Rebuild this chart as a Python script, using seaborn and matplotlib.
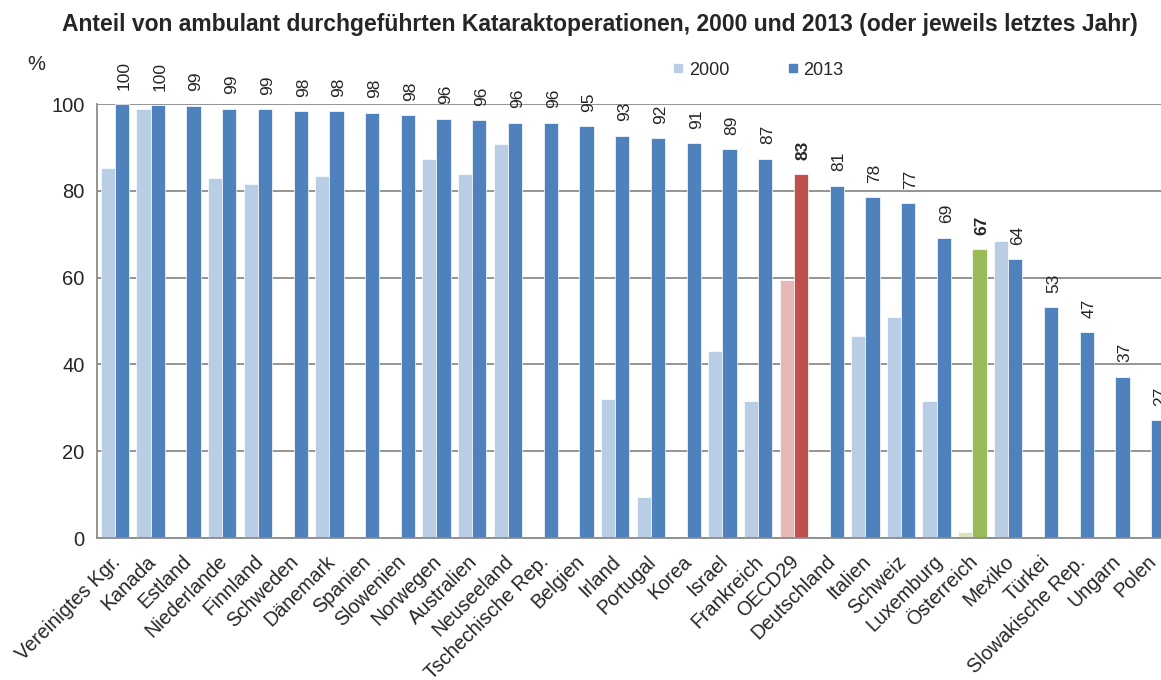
import numpy as np
import pandas as pd
import matplotlib
matplotlib.use('Agg')
import matplotlib.pyplot as plt
from matplotlib.lines import Line2D
import seaborn as sns

# Länder in Reihenfolge der Grafik
countries = ['Vereinigtes Kgr.', 'Kanada', 'Estland', 'Niederlande', 'Finnland',
             'Schweden', 'Dänemark', 'Spanien', 'Slowenien', 'Norwegen',
             'Australien', 'Neuseeland', 'Tschechische Rep.', 'Belgien', 'Irland',
             'Portugal', 'Korea', 'Israel', 'Frankreich', 'OECD29',
             'Deutschland', 'Italien', 'Schweiz', 'Luxemburg', 'Österreich',
             'Mexiko', 'Türkei', 'Slowakische Rep.', 'Ungarn', 'Polen']

# Anteil 2000 (None = keine Daten)
share_2000 = [85.2, 98.8, None, 83.0, 81.6,
              None, 83.4, None, None, 87.3,
              83.8, 90.8, None, None, 32.0,
              9.4, None, 43.0, 31.6, 59.4,
              None, 46.6, 51.0, 31.6, 1.4,
              68.4, None, None, None, None]

# Anteil 2013
share_2013 = [100.0, 99.8, 99.6, 98.9, 98.8,
              98.4, 98.4, 98.0, 97.5, 96.6,
              96.2, 95.7, 95.7, 94.9, 92.7,
              92.2, 90.9, 89.6, 87.4, 83.8,
              81.2, 78.5, 77.2, 69.2, 66.6,
              64.3, 53.2, 47.5, 37.2, 27.1]

labels_2013 = ['100', '100', '99', '99', '99', '98', '98', '98', '98', '96',
               '96', '96', '96', '95', '93', '92', '91', '89', '87', '83',
               '81', '78', '77', '69', '67', '64', '53', '47', '37', '27']

# Farben
blue_dark = '#4F81BD'
blue_light = '#B9CDE5'
red_dark = '#C0504D'
red_light = '#E6B9B8'
green_dark = '#9BBB59'
green_light = '#D7E4BD'

rows = []
for c, a, b in zip(countries, share_2000, share_2013):
    rows.append({'land': c, 'jahr': '2000', 'wert': np.nan if a is None else a})
    rows.append({'land': c, 'jahr': '2013', 'wert': b})
df = pd.DataFrame(rows)

sns.set_style('white')
plt.rcParams['font.family'] = ['Liberation Sans', 'DejaVu Sans']

fig = plt.figure(figsize=(11.61, 6.80), dpi=100)
# Achse reicht rechts leicht über den Bildrand hinaus (wie im Original)
ax = fig.add_axes([97 / 1161, 142 / 680, 1072 / 1161, 434 / 680])

sns.barplot(data=df, x='land', y='wert', hue='jahr', order=countries,
            hue_order=['2000', '2013'], ax=ax, legend=False, width=0.8,
            edgecolor='white', linewidth=0.5, errorbar=None)

# Balken einfärben
for p in ax.patches:
    xc = p.get_x() + p.get_width() / 2
    idx = int(round(xc))
    early = xc < idx
    name = countries[idx]
    if name == 'OECD29':
        col = red_light if early else red_dark
    elif name == 'Österreich':
        col = green_light if early else green_dark
    else:
        col = blue_light if early else blue_dark
    p.set_facecolor(col)

# Werte über den 2013-Balken
for i, (v, lab) in enumerate(zip(share_2013, labels_2013)):
    bold = countries[i] in ('OECD29', 'Österreich')
    ax.text(i + 0.27, v + 3.3, lab, rotation=90, ha='center', va='bottom',
            fontsize=12.5, fontweight='bold' if bold else 'normal', clip_on=False)

ax.set_ylim(0, 100)
ax.set_xlim(-0.5, len(countries) - 0.5)
ax.set_yticks(range(0, 101, 20))
ax.yaxis.grid(True, color='#8c8c8c', linewidth=1.3)
ax.set_axisbelow(True)
ax.set_xlabel('')
ax.set_ylabel('')

# Beschriftungen etwas links der Gruppenmitte (Haupt-Ticks ohne Strich)
ax.set_xticks(np.arange(len(countries)) - 0.12)
ax.set_xticklabels(countries, rotation=45, ha='right', va='top',
                   rotation_mode='anchor', fontsize=14.2)
ax.set_xticks(np.arange(-0.5, len(countries), 1), minor=True)
ax.tick_params(axis='x', which='major', length=0, pad=10)
ax.tick_params(axis='x', which='minor', length=5, color='#8c8c8c', width=1.2)
ax.tick_params(axis='y', length=4, color='#8c8c8c', width=1.2, labelsize=14.5, pad=5)

for s in ['top', 'right']:
    ax.spines[s].set_visible(False)
for s in ['left', 'bottom']:
    ax.spines[s].set_color('#8c8c8c')
    ax.spines[s].set_linewidth(1.3)

fig.text(0.517, 1 - 25 / 680, 'Anteil von ambulant durchgeführten Kataraktoperationen, 2000 und 2013 (oder jeweils letztes Jahr)',
         ha='center', va='center', fontsize=16.5, fontweight='bold')
fig.text(36 / 1161, 1 - 65 / 680, '%', ha='center', va='center', fontsize=14.5)

handles = [Line2D([], [], marker='s', linestyle='none', markersize=5.5,
                  markerfacecolor=blue_light, markeredgecolor=blue_light),
           Line2D([], [], marker='s', linestyle='none', markersize=5.5,
                  markerfacecolor=blue_dark, markeredgecolor=blue_dark)]
fig.legend(handles, ['2000', '2013'], loc='center', bbox_to_anchor=(0.653, 0.897),
           ncol=2, frameon=False, fontsize=13, handlelength=0.6,
           handletextpad=0.3, columnspacing=3.2)

fig.savefig('out.png', dpi=100)
